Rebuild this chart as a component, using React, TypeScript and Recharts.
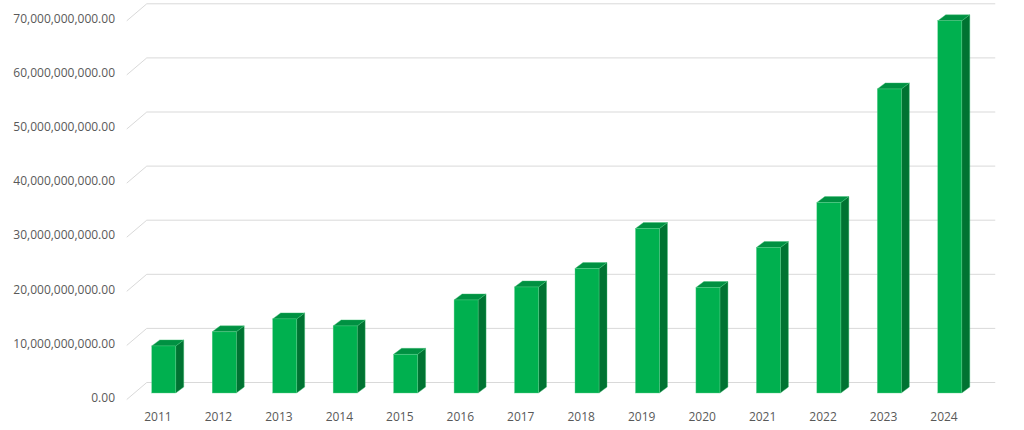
import React from 'react';
import { BarChart, Bar, XAxis, YAxis, CartesianGrid } from 'recharts';

const years = ['2011', '2012', '2013', '2014', '2015', '2016', '2017', '2018', '2019', '2020', '2021', '2022', '2023', '2024'];
const amounts = [
  8.7e9, 11.3e9, 13.7e9, 12.4e9, 7.15e9, 17.2e9, 19.6e9, 23.0e9, 30.4e9, 19.5e9, 26.9e9, 35.2e9, 56.2e9, 68.8e9,
];
const yTicks = [0, 10e9, 20e9, 30e9, 40e9, 50e9, 60e9, 70e9];

const data = years.map((year, i) => ({ year, amount: amounts[i] }));

// oblique depth of the box and of the chart floor
const DX = 8;
const DY = 6;
const BACK = 10.5;
const FRONT = 6.5;
const GRID = '#d9d9d9';
const FONT = '"Open Sans", sans-serif';

const fmt = (v: number) =>
  v.toLocaleString('en-US', { minimumFractionDigits: 2, maximumFractionDigits: 2 });

// 3d column: front face, right side, top
const Box = (props: any) => {
  const { x, y, width, height } = props;
  if (height <= 0) return null;
  const r = x + width;
  const b = y + height;
  return (
    <g>
      <polygon
        points={`${r},${y} ${r + DX},${y - DY} ${r + DX},${b - DY} ${r},${b}`}
        fill="#007332"
        stroke="#3fbf73"
        strokeWidth={0.4}
      />
      <polygon
        points={`${x},${y} ${x + DX},${y - DY} ${r + DX},${y - DY} ${r},${y}`}
        fill="#009142"
        stroke="#3fbf73"
        strokeWidth={0.4}
      />
      <rect x={x} y={y} width={width} height={height} fill="#00b04f" stroke="#5fd08e" strokeWidth={0.4} />
    </g>
  );
};

// gridline: slanted left edge of the floor/wall + line on the back wall
const GridLine = (p: any) => {
  const { y1, x1, x2, index } = p;
  const backX = x1 + 13;
  return (
    <g key={`g-${index}`}>
      <line x1={backX - 20} y1={y1 + FRONT} x2={backX} y2={y1 - BACK} stroke={GRID} strokeWidth={1} />
      <line x1={backX} y1={y1 - BACK} x2={x2 + 15} y2={y1 - BACK} stroke={GRID} strokeWidth={1} />
    </g>
  );
};

const YTick = (p: any) => {
  const { y, payload } = p;
  return (
    <text x={115} y={y + 5.5} textAnchor="end" dominantBaseline="middle" fill="#595959" fontSize={12} fontFamily={FONT}>
      {fmt(payload.value)}
    </text>
  );
};

const XTick = (p: any) => {
  const { x, y, payload } = p;
  return (
    <text x={x - 6} y={y + 20} textAnchor="middle" fill="#595959" fontSize={12} fontFamily={FONT}>
      {payload.value}
    </text>
  );
};

export default function App() {
  return (
    <div style={{ position: 'absolute', left: 0, top: 0, background: '#fff' }}>
      <BarChart
        width={1024}
        height={430}
        data={data}
        margin={{ top: 14.3, right: 43.75, bottom: 7, left: 0 }}
        barSize={24}
      >
        <CartesianGrid vertical={false} horizontal={GridLine} />
        <XAxis dataKey="year" axisLine={false} tickLine={false} tick={XTick} height={30} interval={0} />
        <YAxis
          width={133.75}
          domain={[0, 70e9]}
          ticks={yTicks}
          axisLine={false}
          tickLine={false}
          tick={YTick}
          interval={0}
        />
        <Bar dataKey="amount" shape={Box} isAnimationActive={false} />
      </BarChart>
    </div>
  );
}
